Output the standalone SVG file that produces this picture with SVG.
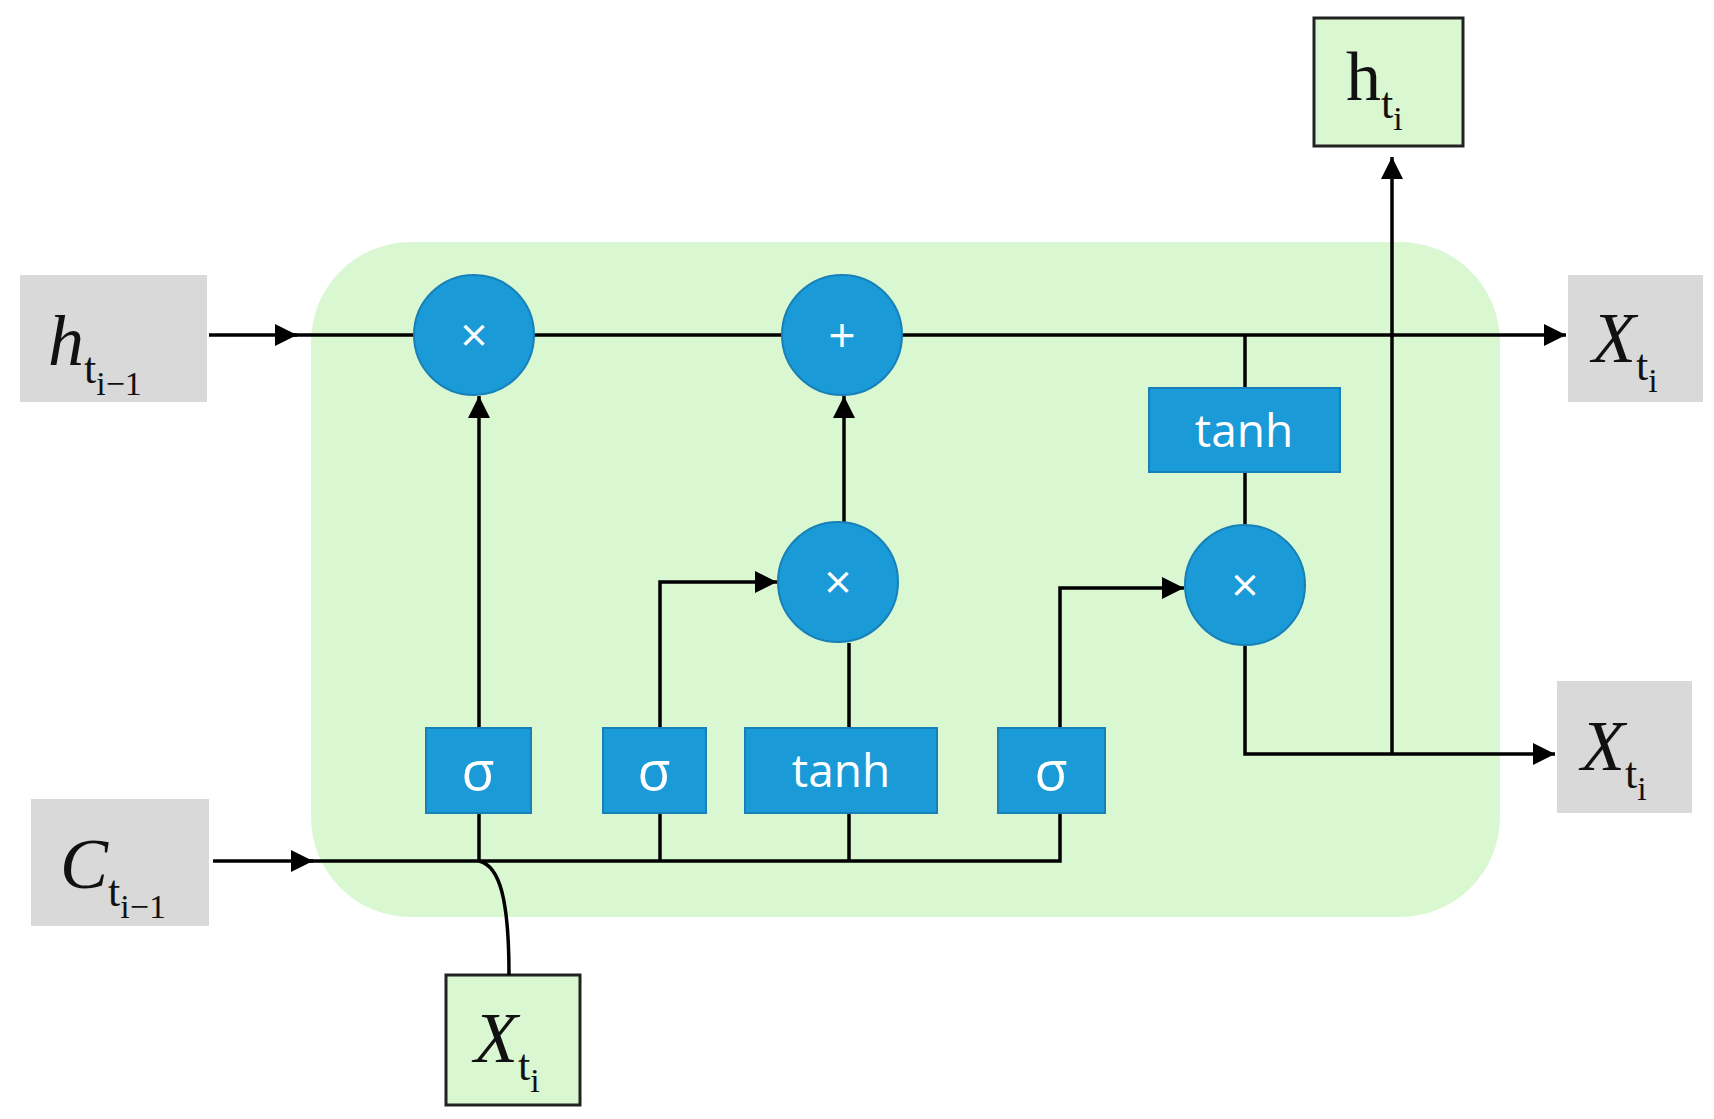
<svg xmlns="http://www.w3.org/2000/svg" width="1714" height="1119" viewBox="0 0 1714 1119">
<defs>
<marker id="ar" viewBox="0 0 10 10" refX="9" refY="5" markerWidth="7" markerHeight="7" markerUnits="userSpaceOnUse" orient="auto"><path d="M0,0 L10,5 L0,10 z" fill="#000"/></marker>
<marker id="a" viewBox="0 0 10 10" refX="10" refY="5" markerWidth="24" markerHeight="22" markerUnits="userSpaceOnUse" orient="auto"><path d="M0,0 L10,5 L0,10 z" fill="#000"/></marker>
<style>
.gray{fill:#d9d9d9}
.gbox{fill:#d9f7d0;stroke:#222;stroke-width:3}
.op{fill:#1a9ad6;stroke:#1780b8;stroke-width:2}
.gate{fill:#1a9ad6;stroke:#1780b8;stroke-width:2}
.ot{fill:#fff;font-family:"Open Sans","DejaVu Sans",sans-serif;text-anchor:middle}
.lab{font-family:"Liberation Serif",serif;font-style:italic;fill:#111}
.sub{font-family:"Liberation Serif",serif;font-style:normal}
.ln{fill:none;stroke:#000;stroke-width:3.5}
</style>
</defs>
<rect x="311" y="242" width="1189" height="675" rx="100" fill="#d9f7d0"/>
<g id="in_h" ><rect class="gray" x="20" y="275" width="187" height="127"/><text class="lab" x="48" y="365" font-size="72">h<tspan class="sub" font-size="44" dy="18">t</tspan><tspan class="sub" font-size="34" dy="12">i−1</tspan></text></g>
<g id="in_c"><rect class="gray" x="31" y="799" width="178" height="127"/><text class="lab" x="60" y="888" font-size="72">C<tspan class="sub" font-size="44" dy="18">t</tspan><tspan class="sub" font-size="34" dy="12">i−1</tspan></text></g>
<g id="out_x1"><rect class="gray" x="1568" y="275" width="135" height="127"/><text class="lab" x="1592" y="362" font-size="72">X<tspan class="sub" font-size="44" dy="18">t</tspan><tspan class="sub" font-size="34" dy="12">i</tspan></text></g>
<g id="out_x2"><rect class="gray" x="1557" y="681" width="135" height="132"/><text class="lab" x="1581" y="770" font-size="72">X<tspan class="sub" font-size="44" dy="18">t</tspan><tspan class="sub" font-size="34" dy="12">i</tspan></text></g>
<g id="out_h"><rect class="gbox" x="1314" y="18" width="149" height="128"/><text class="sub" x="1346" y="100" font-size="70" fill="#111">h<tspan font-size="44" dy="18">t</tspan><tspan font-size="34" dy="12">i</tspan></text></g>
<g id="in_x"><rect class="gbox" x="446" y="975" width="134" height="130"/><text class="lab" x="474" y="1062" font-size="72">X<tspan class="sub" font-size="44" dy="18">t</tspan><tspan class="sub" font-size="34" dy="12">i</tspan></text></g>
<g id="connectors">
<path class="ln" d="M209,335 H297" marker-end="url(#a)"/>
<path class="ln" d="M290,335 H1566" marker-end="url(#a)"/>
<path class="ln" d="M213,861 H313" marker-end="url(#a)"/>
<path class="ln" d="M305,861 H1060 V813"/>
<path class="ln" d="M1060,728 V588 H1184" marker-end="url(#a)"/>
<path class="ln" d="M660,861 V813"/>
<path class="ln" d="M660,728 V582 H777" marker-end="url(#a)"/>
<path class="ln" d="M849,861 V643"/>
<path class="ln" d="M844,522 V396" marker-end="url(#a)"/>
<path class="ln" d="M479,861 V813"/>
<path class="ln" d="M479,728 V396" marker-end="url(#a)"/>
<path class="ln" d="M509,975 C509,900 500,866 479,861"/>
<path class="ln" d="M1245,335 V388"/>
<path class="ln" d="M1245,472 V524"/>
<path class="ln" d="M1245,645 V754 H1555" marker-end="url(#a)"/>
<path class="ln" d="M1392,754 V157" marker-end="url(#a)"/>
</g>
<g id="mul1"><ellipse class="op" cx="474" cy="335" rx="60" ry="60"/><text class="ot" x="474" y="352" font-size="48">×</text></g>
<g id="add"><ellipse class="op" cx="842" cy="335" rx="60" ry="60"/><text class="ot" x="842" y="352" font-size="48">+</text></g>
<g id="mul2"><ellipse class="op" cx="838" cy="582" rx="60" ry="60"/><text class="ot" x="838" y="599" font-size="48">×</text></g>
<g id="mul3"><ellipse class="op" cx="1245" cy="585" rx="60" ry="60"/><text class="ot" x="1245" y="602" font-size="48">×</text></g>
<g id="sig1"><rect class="gate" x="426" y="728" width="105" height="85"/><text class="ot" x="478" y="790" font-size="54">σ</text></g>
<g id="sig2"><rect class="gate" x="603" y="728" width="103" height="85"/><text class="ot" x="654" y="790" font-size="54">σ</text></g>
<g id="tanh1"><rect class="gate" x="745" y="728" width="192" height="85"/><text class="ot" x="841" y="787" font-size="46">tanh</text></g>
<g id="sig3"><rect class="gate" x="998" y="728" width="107" height="85"/><text class="ot" x="1051" y="790" font-size="54">σ</text></g>
<g id="tanh2"><rect class="gate" x="1149" y="388" width="191" height="84"/><text class="ot" x="1244" y="447" font-size="46">tanh</text></g>
</svg>
